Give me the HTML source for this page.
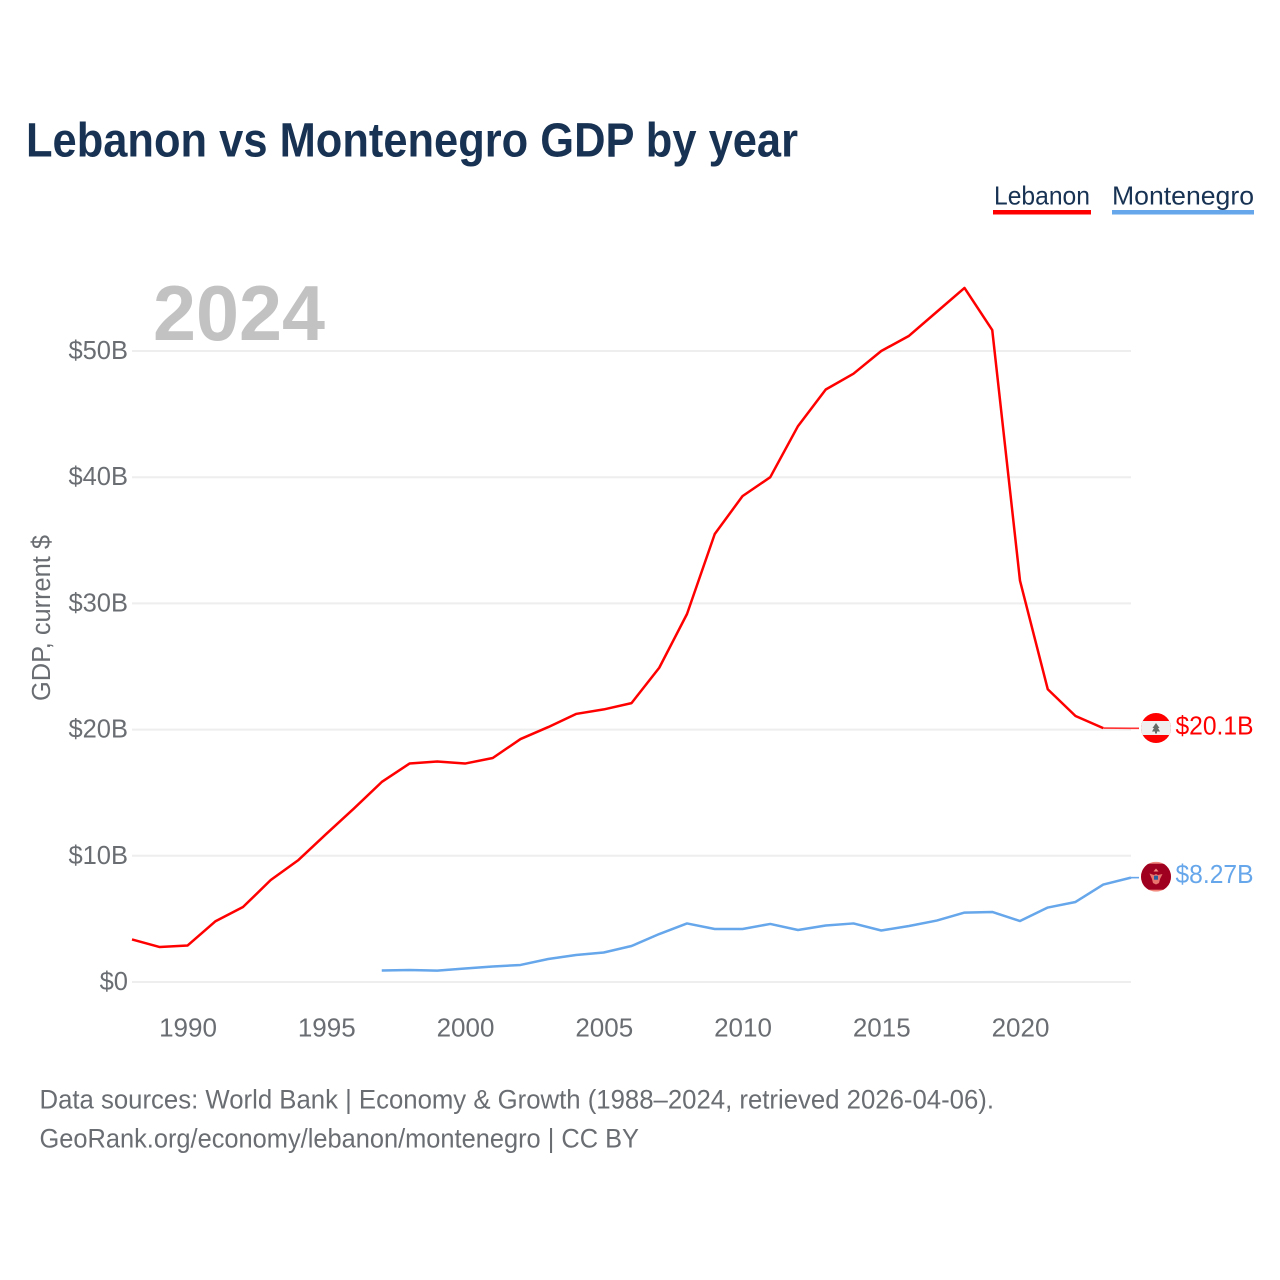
<!DOCTYPE html>
<html lang="en">
<head>
<meta charset="utf-8">
<title>Lebanon vs Montenegro GDP by year</title>
<style>
html,body{margin:0;padding:0;background:#fff;}
svg{display:block;font-family:"Liberation Sans",sans-serif;}
</style>
</head>
<body>
<svg id="chart" width="1280" height="1280" viewBox="0 0 1280 1280" xmlns="http://www.w3.org/2000/svg">
  <defs>
    <clipPath id="flag-clip-lb"><circle cx="1156" cy="728" r="15"/></clipPath>
    <clipPath id="flag-clip-me"><circle cx="1156" cy="876.700" r="15"/></clipPath>
  </defs>
  <rect x="0" y="0" width="1280" height="1280" fill="#ffffff"/>
  <text x="26" y="156.500" font-size="48" font-weight="700" fill="#173253" textLength="772" lengthAdjust="spacingAndGlyphs">Lebanon vs Montenegro GDP by year</text>

  <g>
    <g>
      <text x="994" y="204.500" font-size="26" fill="#173253" textLength="96" lengthAdjust="spacingAndGlyphs">Lebanon</text>
      <rect x="993" y="210" width="98" height="4.5" fill="#ff0000"/>
    </g>
    <g>
      <text x="1112" y="204.500" font-size="26" fill="#173253" textLength="142" lengthAdjust="spacingAndGlyphs">Montenegro</text>
      <rect x="1112" y="210" width="142" height="4.5" fill="#66a6ea"/>
    </g>
  </g>

  <g id="grid"></g>
  <text x="153" y="340" font-size="78" font-weight="700" fill="#c2c2c2" textLength="172" lengthAdjust="spacingAndGlyphs">2024</text>
  <g id="y-ticks"></g>
  <g id="x-ticks"></g>
  <text transform="translate(50,618) rotate(-90)" text-anchor="middle" font-size="25.5" fill="#6a6e73" textLength="166" lengthAdjust="spacingAndGlyphs">GDP, current $</text>
  <g id="series"></g>

  <g clip-path="url(#flag-clip-lb)">
    <rect x="1141" y="713" width="30" height="30" fill="#ff0000"/>
    <rect x="1141" y="721" width="30" height="14" fill="#efefef"/>
    <path d="M1156 723l3.500 5h-1.500l2 3.500h-3v2h-2v-2h-3l2-3.500h-1.500z" fill="#666a66"/>
  </g>
  <g clip-path="url(#flag-clip-me)">
    <rect x="1141" y="861.700" width="30" height="30" fill="#f28a80"/>
    <rect x="1141" y="863.700" width="30" height="26" fill="#a00020"/>
    <path d="M1156 868.500l2.500 3h-5z" fill="#f28a80"/>
    <path d="M1149.500 873.500l4.500 1.500 2-1 2 1 4.500-1-2.500 5-1 4-3 1.500-3-1.500-1-4z" fill="#e8766f"/>
    <rect x="1154" y="875.700" width="4" height="4" fill="#2a5f9e"/>
  </g>

  <text x="1175.500" y="734.500" font-size="25.5" fill="#ff0000" textLength="78" lengthAdjust="spacingAndGlyphs">$20.1B</text>
  <text x="1175.500" y="883" font-size="25.5" fill="#66a6ea" textLength="78" lengthAdjust="spacingAndGlyphs">$8.27B</text>

  <g>
    <text x="39.500" y="1108.500" font-size="26.5" fill="#6a6e73" textLength="954.500" lengthAdjust="spacingAndGlyphs">Data sources: World Bank | Economy &amp; Growth (1988–2024, retrieved 2026-04-06).</text>
    <text x="39.500" y="1147.500" font-size="26.5" fill="#6a6e73" textLength="599.500" lengthAdjust="spacingAndGlyphs">GeoRank.org/economy/lebanon/montenegro | CC BY</text>
  </g>
</svg>
<script>
const yearsLebanon = [1988,1989,1990,1991,1992,1993,1994,1995,1996,1997,1998,1999,2000,2001,2002,2003,2004,2005,2006,2007,2008,2009,2010,2011,2012,2013,2014,2015,2016,2017,2018,2019,2020,2021,2022,2023,2024];
const valuesLebanon = [3.37,2.77,2.89,4.8,5.94,8.08,9.67,11.73,13.75,15.85,17.31,17.47,17.31,17.75,19.25,20.2,21.24,21.6,22.1,24.9,29.16,35.5,38.5,40.0,44.05,46.95,48.2,50.0,51.2,53.1,55.0,51.66,31.8,23.2,21.08,20.12,20.1];
const yearsMontenegro = [1997,1998,1999,2000,2001,2002,2003,2004,2005,2006,2007,2008,2009,2010,2011,2012,2013,2014,2015,2016,2017,2018,2019,2020,2021,2022,2023,2024];
const valuesMontenegro = [0.91,0.95,0.9,1.07,1.23,1.35,1.82,2.14,2.34,2.85,3.8,4.64,4.2,4.2,4.6,4.12,4.48,4.64,4.08,4.44,4.87,5.5,5.55,4.83,5.9,6.34,7.72,8.27];
const yTickValues = [0,10,20,30,40,50];
const yTickLabels = ["$0","$10B","$20B","$30B","$40B","$50B"];
const xTickValues = [1990,1995,2000,2005,2010,2015,2020];
const xTickLabels = ["1990","1995","2000","2005","2010","2015","2020"];

const SVG_NS = 'http://www.w3.org/2000/svg';
const xScale = year => 132 + (year - 1988) * (1131 - 132) / 36;
const yScale = value => 982 - value * 12.62;

function make(tag, attrs, parent) {
  const el = document.createElementNS(SVG_NS, tag);
  for (const key in attrs) el.setAttribute(key, attrs[key]);
  parent.appendChild(el);
  return el;
}

const gridGroup = document.getElementById('grid');
const yTickGroup = document.getElementById('y-ticks');
yTickValues.forEach((v, i) => {
  const line = make('line', {x1: 132, x2: 1131, y1: yScale(v), y2: yScale(v), stroke: '#eeeeee', 'stroke-width': 2}, gridGroup);
  
  
  const label = make('text', {x: 128, y: yScale(v) + 8, 'text-anchor': 'end', 'font-size': 25.5, fill: '#6a6e73'}, yTickGroup);
  label.textContent = yTickLabels[i];
  
  
});

const xTickGroup = document.getElementById('x-ticks');
xTickValues.forEach((v, i) => {
  const label = make('text', {x: xScale(v) + 0.5, y: 1036.5, 'text-anchor': 'middle', 'font-size': 26, fill: '#6a6e73'}, xTickGroup);
  label.textContent = xTickLabels[i];
  
  
});

const seriesGroup = document.getElementById('series');
function pathFor(years, values) {
  return years.map((y, i) => (i ? 'L' : 'M') + xScale(y).toFixed(2) + ' ' + yScale(values[i]).toFixed(2)).join(' ');
}
const lastIndexLebanon = valuesLebanon.length - 1;
const lebanonLine = make('path', {d: pathFor(yearsLebanon.slice(0, lastIndexLebanon), valuesLebanon.slice(0, lastIndexLebanon)), fill: 'none', stroke: '#ff0000', 'stroke-width': 2.5, 'stroke-linejoin': 'round'}, seriesGroup);


const montenegroLine = make('path', {d: pathFor(yearsMontenegro, valuesMontenegro), fill: 'none', stroke: '#66a6ea', 'stroke-width': 2.5, 'stroke-linejoin': 'round'}, seriesGroup);



const lastLebanon = valuesLebanon[lastIndexLebanon];
const lastMontenegro = valuesMontenegro[valuesMontenegro.length - 1];
const connectorD = 'M' + xScale(yearsLebanon[lastIndexLebanon - 1]).toFixed(2) + ' ' + yScale(valuesLebanon[lastIndexLebanon - 1]).toFixed(2) + ' L' + xScale(yearsLebanon[lastIndexLebanon]).toFixed(2) + ' ' + yScale(lastLebanon).toFixed(2) + ' L1139 ' + yScale(lastLebanon).toFixed(2);
const connectorLebanon = make('path', {d: connectorD, fill: 'none', stroke: '#ff3333', 'stroke-width': 1.6}, seriesGroup);


const connectorMontenegro = make('line', {x1: xScale(2024), x2: 1139, y1: yScale(lastMontenegro), y2: yScale(lastMontenegro), stroke: '#66a6ea', 'stroke-width': 1.6}, seriesGroup);


</script>
</body>
</html>
